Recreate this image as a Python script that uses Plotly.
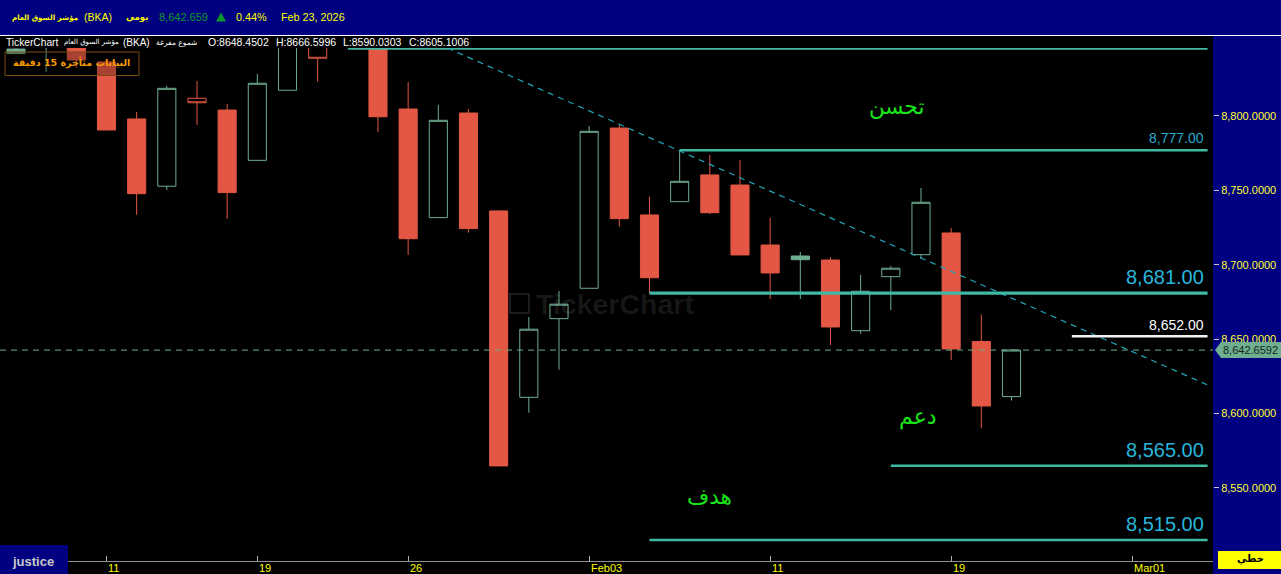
import plotly.graph_objects as go

W, H = 1281, 574
ML, MR, MT, MB = 0, 68, 48, 13

# ---------- data ----------
IDX   = [-3, -2, -1, 0, 1, 2, 3, 4, 5, 6, 7, 9, 10, 11, 12, 13, 14, 15, 16, 17, 18, 19, 20, 21, 22, 23, 24, 25, 26, 27, 28, 29, 30]
OPEN  = [8842, 8847, 8847.7, 8836.3, 8798, 8752.8, 8811.9, 8804, 8770.2, 8817.3, 8851, 8851, 8804.7, 8731.7, 8802, 8736.2, 8610.9, 8663.8, 8684.2, 8791.9, 8733.5, 8742.4, 8760.4, 8753.6, 8713.3, 8703.4, 8703.2, 8655.7, 8692, 8706.8, 8721.4, 8648.45, 8611.4]
HIGH  = [8846, 8855, 8850, 8836.3, 8802.7, 8820.2, 8823.5, 8808.1, 8828.2, 8855, 8853, 8853, 8822.8, 8807.4, 8804.7, 8736.2, 8664.9, 8682.4, 8793.3, 8794.6, 8745.6, 8777.2, 8773.8, 8770.4, 8731.5, 8708.6, 8705.2, 8693.2, 8699.2, 8751.6, 8724.7, 8666.6, 8643.4]
LOW   = [8842, 8829.6, 8832.3, 8790.6, 8733.5, 8750.3, 8794, 8731, 8770.2, 8817.3, 8823, 8789.2, 8706.6, 8731.7, 8721.6, 8564.8, 8600.6, 8629.5, 8684.2, 8725.6, 8681, 8742.4, 8734.1, 8706.6, 8677, 8677, 8646.1, 8653.5, 8669.6, 8703.9, 8636, 8590.03, 8608.7]
CLOSE = [8845, 8852, 8837.6, 8790.6, 8747.8, 8818.6, 8808.9, 8748.5, 8822, 8852, 8838.8, 8799.5, 8717.5, 8797.1, 8724.3, 8564.8, 8656.7, 8673.5, 8789.7, 8731, 8691.3, 8756.1, 8735, 8706.6, 8694.5, 8705.9, 8658.2, 8682.2, 8697.7, 8742, 8643.4, 8605.1, 8642.7]
# g = green hollow, G = green solid, r = red solid, R = red hollow
KIND  = ["G", "g", "r", "r", "r", "g", "R", "r", "g", "g", "R", "r", "r", "g", "r", "r", "g", "g", "g",
         "r", "r", "g", "r", "r", "r", "G", "r", "g", "g", "g", "r", "r", "g"]

TICK_POS    = [0, 5, 10, 16, 22, 28, 34]
TICK_LABELS = ["11", "19", "26", "Feb03", "11", "19", "Mar01"]
Y_TICKS     = [8550, 8600, 8650, 8700, 8750, 8800]

LEVELS       = [8777.0, 8681.0, 8652.0, 8565.0, 8515.0]
LEVEL_START  = [19, 18, 32, 26, 18]
LEVEL_WIDTH  = [2.5, 3.2, 2.5, 2.5, 2.5]
LEVEL_COLOR  = ["#3fb8a4", "#3fb8a4", "#f2f2f2", "#3fb8a4", "#3fb8a4"]
LEVEL_TEXT_C = ["#27a9cf", "#27b6dc", "#ffffff", "#27b6dc", "#27b6dc"]
LEVEL_TEXT_S = [14, 20, 14, 20, 20]
LEVEL_TEXT_D = [2, 3, 1, 3, 3]

TOP_LINE = 8845.2
TREND_X  = [11.3, 36.5]
TREND_Y  = [8845.7, 8619.2]
LAST     = 8642.6592
XMAX_LINE = 36.5

RED, GREEN, TEAL_D = "#e35744", "#6fae90", "#1fa6b8"
YEL = "#ffff00"
XR = [-3.53, 36.68]
YR = [8500.9, 8845.7]

def px(x): return (x - ML) / (W - ML - MR)
def py(y): return 1 - (y - MT) / (H - MT - MB)

fig = go.Figure()

def add_candles(kinds, up_line, fill):
    ii = [i for i, k in enumerate(KIND) if k in kinds]
    style = dict(line=dict(color=up_line, width=1), fillcolor=fill)
    fig.add_trace(go.Candlestick(
        x=[IDX[i] for i in ii], open=[OPEN[i] for i in ii], high=[HIGH[i] for i in ii],
        low=[LOW[i] for i in ii], close=[CLOSE[i] for i in ii],
        increasing=style, decreasing=style, whiskerwidth=0, showlegend=False, hoverinfo="skip"))

add_candles("g", GREEN, "#000000")
add_candles("G", GREEN, GREEN)
add_candles("r", RED, RED)
add_candles("R", RED, "#000000")

fig.add_trace(go.Scatter(x=[8, XMAX_LINE], y=[TOP_LINE, TOP_LINE], mode="lines",
                         line=dict(color="#3fb8a4", width=2), showlegend=False, hoverinfo="skip"))
fig.add_trace(go.Scatter(x=TREND_X, y=TREND_Y, mode="lines",
                         line=dict(color=TEAL_D, width=1.2, dash="6px,5px"), showlegend=False, hoverinfo="skip"))
for v, s, w, c in zip(LEVELS, LEVEL_START, LEVEL_WIDTH, LEVEL_COLOR):
    fig.add_trace(go.Scatter(x=[s, XMAX_LINE], y=[v, v], mode="lines",
                             line=dict(color=c, width=w), showlegend=False, hoverinfo="skip"))
fig.add_trace(go.Scatter(x=XR, y=[LAST, LAST], mode="lines",
                         line=dict(color=GREEN, width=1, dash="6px,5px"), showlegend=False, hoverinfo="skip"))

shapes = [
    dict(type="rect", xref="paper", yref="paper", x0=px(0), x1=px(1213), y0=py(48), y1=py(36),
         fillcolor="#000", line_width=0, layer="below"),
    dict(type="rect", xref="paper", yref="paper", x0=px(0), x1=px(1213), y0=py(574), y1=py(561),
         fillcolor="#000", line_width=0, layer="below"),
    dict(type="rect", xref="paper", yref="paper", x0=px(0), x1=px(W), y0=py(35), y1=py(0),
         fillcolor="#000080", line_width=0, layer="below"),
    dict(type="rect", xref="paper", yref="paper", x0=px(0), x1=px(W), y0=py(36), y1=py(35),
         fillcolor="#ffffff", line_width=0, layer="below"),
    dict(type="path", xref="paper", yref="paper", line_width=0, fillcolor="#0a9a2a",
         path=f"M {px(216)} {py(21.5)} L {px(226)} {py(21.5)} L {px(221)} {py(12.5)} Z"),
    dict(type="rect", xref="paper", yref="paper", x0=px(5), x1=px(139), y0=py(75.5), y1=py(52),
         fillcolor="rgba(0,0,0,0.25)", line=dict(color="#7a4a10", width=1)),
    dict(type="rect", xref="paper", yref="paper", x0=px(510), x1=px(529), y0=py(313), y1=py(294),
         fillcolor="rgba(0,0,0,0)", line=dict(color="#1c1c1c", width=2), layer="below"),
    dict(type="rect", xref="paper", yref="paper", x0=px(0), x1=px(68), y0=py(574), y1=py(545),
         fillcolor="#000080", line_width=0),
    dict(type="rect", xref="paper", yref="paper", x0=px(1218), x1=px(1281), y0=py(569), y1=py(551),
         fillcolor=YEL, line_width=0),
    dict(type="path", xref="paper", yref="y", xsizemode="pixel", ysizemode="pixel",
         xanchor=1, yanchor=LAST, fillcolor=GREEN, line_width=0,
         path="M 2 0 L 8 8 L 68 8 L 68 -8 L 8 -8 Z"),
]

def note(text, x, y, size=11, color="#fff", family="Liberation Sans", anchor="left", **kw):
    return dict(text=text, x=px(x), y=py(y), xref="paper", yref="paper", showarrow=False,
                xanchor=anchor, yanchor="middle", font=dict(size=size, color=color, family=family),
                borderpad=0, **kw)

anns = [
    note("<b>مؤشر السوق العام</b>", 79, 17, 7.2, YEL, "DejaVu Sans", anchor="right"),
    note("(BKA)", 83, 17, 10.5, YEL),
    note("<b>يومي</b>", 125, 17, 8.5, YEL, "DejaVu Sans"),
    note("8,642.659", 158, 17, 11, "#0a9a2a"),
    note("0.44%", 235, 17, 10.8, YEL),
    note("Feb 23, 2026", 280, 17, 10.8, YEL),
    note("TickerChart", 5, 42.5, 10.2),
    note("مؤشر السوق العام", 120, 42.5, 7, "#fff", "DejaVu Sans", anchor="right"),
    note("(BKA)", 122, 42.5, 10),
    note("شموع مفرغة", 198, 42.5, 7.5, "#fff", "DejaVu Sans", anchor="right"),
    note("O:8648.4502", 207, 42.5, 10.5),
    note("H:8666.5996", 275, 42.5, 10.5),
    note("L:8590.0303", 342, 42.5, 10.5),
    note("C:8605.1006", 408, 42.5, 10.5),
    note("<b>البيانات متأخرة 15 دقيقة</b>", 71, 63, 9.5, "#f59a00", "DejaVu Sans", anchor="center"),
    note("<b>TickerChart</b>", 535, 304, 28.5, "rgba(255,255,255,0.09)"),
    note("تحسن", 896, 106, 21.5, "#19e619", "DejaVu Sans", anchor="center"),
    note("دعم", 918, 417, 22, "#19e619", "DejaVu Sans", anchor="center"),
    note("هدف", 710, 496, 21.5, "#19e619", "DejaVu Sans", anchor="center"),
    note("<b>justice</b>", 33, 561.5, 13, "#c8c8c8", anchor="center"),
    note("<b>خطي</b>", 1250, 559, 10, "#000", "DejaVu Sans", anchor="center"),
    dict(text=f"{LAST:,.4f}", x=px(1250), y=LAST, xref="paper", yref="y", showarrow=False,
         xanchor="center", yanchor="middle", font=dict(size=11, color="#10281c", family="Liberation Sans")),
]
for v, c, s, d in zip(LEVELS, LEVEL_TEXT_C, LEVEL_TEXT_S, LEVEL_TEXT_D):
    anns.append(dict(text=f"{v:,.2f}", x=px(1206), y=v, xref="paper", yref="y", showarrow=False,
                     xanchor="right", yanchor="bottom", yshift=d,
                     font=dict(size=s, color=c, family="Liberation Sans")))
for p, t in zip(TICK_POS, TICK_LABELS):
    anns.append(dict(text=t, x=p, y=py(568), xref="x", yref="paper", showarrow=False,
                     xanchor="left", yanchor="middle", xshift=0,
                     font=dict(size=11, color=YEL, family="Liberation Sans")))

fig.update_layout(
    width=W, height=H, margin=dict(l=ML, r=MR, t=MT, b=MB, pad=0),
    paper_bgcolor="#000080", plot_bgcolor="#000000",
    boxmode="overlay", boxgap=0.4, boxgroupgap=0, showlegend=False,
    shapes=shapes, annotations=anns,
    xaxis=dict(range=XR, rangeslider=dict(visible=False), showgrid=False, zeroline=False,
               tickmode="array", tickvals=TICK_POS, showticklabels=False,
               ticks="inside", ticklen=5, tickcolor="#b0b0b0", tickwidth=1,
               showline=True, linecolor="#909090", linewidth=1),
    yaxis=dict(range=YR, side="right", showgrid=False, zeroline=False, tickmode="array",
               tickvals=Y_TICKS, tickformat=",.4f", ticks="outside", ticklen=5,
               tickcolor="#c8c8c8", tickwidth=1,
               tickfont=dict(size=11, color="#ffff33", family="Liberation Sans")),
)

fig.write_html("out.html", config={"displayModeBar": False},
               post_script="document.body.style.margin='0';document.body.style.overflow='hidden';")
